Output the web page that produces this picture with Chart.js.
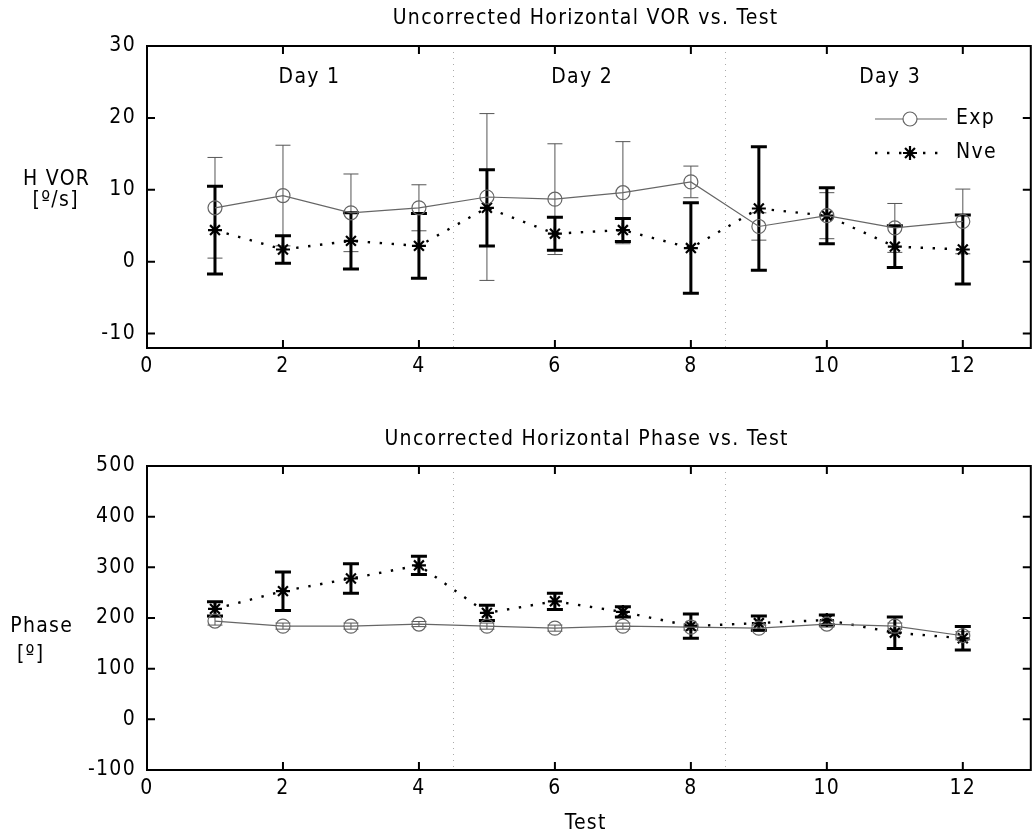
<!DOCTYPE html>
<html><head><meta charset="utf-8">
<script src="https://cdn.jsdelivr.net/npm/chart.js@4"></script>
<style>
html,body{margin:0;padding:0;background:#fff;overflow:hidden;width:1032px;height:838px;position:relative;}
canvas{position:absolute;left:0;}
#c1{top:0;}
#c2{top:420px;}
</style></head><body>
<canvas id="c1" width="1040" height="400"></canvas>
<canvas id="c2" width="1040" height="418"></canvas>
<script>
// ---------- data ----------
const tests      = [1,2,3,4,5,6,7,8,9,10,11,12];
const vorExp     = [7.5,9.2,6.8,7.5,9.0,8.7,9.6,11.1,4.9,6.4,4.7,5.6];
const vorExpErr  = [7.0,7.0,5.4,3.2,11.6,7.7,7.1,2.2,1.9,3.2,3.4,4.5];
const vorNve     = [4.4,1.7,2.9,2.2,7.5,3.9,4.4,1.9,7.4,6.4,2.1,1.7];
const vorNveErr  = [6.1,1.9,3.9,4.5,5.3,2.3,1.6,6.3,8.6,3.9,2.9,4.8];
const phExp      = [194,184,184,188,184,180,184,182,180,188,184,165];
const phExpErr   = [8,6,6,5,6,6,6,6,6,6,6,8];
const phNve      = [218,253,278,304,210,233,212,184,190,196,171,160];
const phNveErr   = [14,38,29,18,15,16,10,24,14,10,31,23];
const xTicks     = [0,2,4,6,8,10,12];
const vorTicks   = [-10,0,10,20,30];
const phaseTicks = [-100,0,100,200,300,400,500];
const dayDividers= [4.5,8.5];
const dayLabels  = ['Day 1','Day 2','Day 3'];
const dayLabelX  = [2.38,6.39,10.92];
const dayLabelY  = 25.6;
const seriesNames= ['Exp','Nve'];

// ---------- style ----------
const FONT = '"Liberation Sans Narrow", "DejaVu Sans Condensed", Arial, sans-serif';
const FSIZE = 21;
const SPACING = '1.3px';
Chart.defaults.font.family = FONT;
Chart.defaults.font.size = FSIZE;
Chart.defaults.color = '#000';

function txt(ctx, s, x, y, align){
  ctx.save();
  ctx.font = FSIZE + 'px ' + FONT;
  ctx.letterSpacing = SPACING;
  ctx.fillStyle = '#000';
  ctx.textAlign = align || 'center';
  ctx.textBaseline = 'middle';
  ctx.fillText(s, x + (align==='left'?0:0.65), y);
  ctx.restore();
}

function pts(vals){ return tests.map((t,i)=>({x:t, y:vals[i]})); }

function expDataset(vals, errs){
  return {label:seriesNames[0], data:pts(vals), errors:errs, errColor:'#555', errWidth:1, capHalf:7.5,
    borderColor:'#666', borderWidth:1.2, pointStyle:'circle', pointRadius:7, pointBorderWidth:1.2,
    pointBorderColor:'#666', pointBackgroundColor:'rgba(0,0,0,0)', tension:0, fill:false};
}
function nveDataset(vals, errs){
  return {label:seriesNames[1], data:pts(vals), errors:errs, errColor:'#000', errWidth:3, capHalf:8,
    borderColor:'#000', borderWidth:2.4, borderDash:[2.4,9.6], pointStyle:'star', pointRadius:7,
    pointBorderWidth:2.2, pointBorderColor:'#000', pointBackgroundColor:'#000', tension:0, fill:false};
}

const framePlugin = {
  id:'matFrame',
  beforeDraw(chart){ chart.ctx.letterSpacing = SPACING; },
  beforeDatasetsDraw(chart){
    const {ctx, chartArea:a, scales:{x,y}} = chart;
    ctx.save();
    ctx.strokeStyle = '#aaa'; ctx.lineWidth = 1; ctx.setLineDash([1,5]);
    dayDividers.forEach(v=>{
      const px = Math.round(x.getPixelForValue(v)) + 0.5;
      ctx.beginPath(); ctx.moveTo(px, a.top); ctx.lineTo(px, a.bottom); ctx.stroke();
    });
    ctx.restore();
    chart.data.datasets.forEach(ds=>{
      ctx.save();
      ctx.strokeStyle = ds.errColor; ctx.lineWidth = ds.errWidth;
      ds.data.forEach((p,j)=>{
        const e = ds.errors[j];
        const px = x.getPixelForValue(p.x);
        const y1 = y.getPixelForValue(p.y - e), y2 = y.getPixelForValue(p.y + e);
        ctx.beginPath();
        ctx.moveTo(px, y1); ctx.lineTo(px, y2);
        ctx.moveTo(px - ds.capHalf, y1); ctx.lineTo(px + ds.capHalf, y1);
        ctx.moveTo(px - ds.capHalf, y2); ctx.lineTo(px + ds.capHalf, y2);
        ctx.stroke();
      });
      ctx.restore();
    });
  },
  afterDraw(chart){
    const {ctx, chartArea:a, scales:{x,y}} = chart;
    ctx.save();
    ctx.strokeStyle = '#000'; ctx.lineWidth = 2; ctx.setLineDash([]);
    ctx.strokeRect(a.left, a.top, a.right - a.left, a.bottom - a.top);
    const L = 8;
    ctx.beginPath();
    x.ticks.forEach(t=>{
      const px = x.getPixelForValue(t.value);
      ctx.moveTo(px, a.bottom); ctx.lineTo(px, a.bottom - L);
      ctx.moveTo(px, a.top); ctx.lineTo(px, a.top + L);
    });
    y.ticks.forEach(t=>{
      const py = y.getPixelForValue(t.value);
      ctx.moveTo(a.left, py); ctx.lineTo(a.left + L, py);
      ctx.moveTo(a.right, py); ctx.lineTo(a.right - L, py);
    });
    ctx.stroke();
    ctx.restore();
  }
};

function scales(yMin, yMax, yTicks, xHeight){
  return {
    x:{type:'linear', min:0, max:13,
       afterBuildTicks:s=>{ s.ticks = xTicks.map(v=>({value:v})); },
       afterFit:s=>{ s.height = xHeight; },
       grid:{display:false, drawTicks:false}, border:{display:false},
       ticks:{padding:6, maxRotation:0, autoSkip:false, color:'#000', font:{size:FSIZE}}},
    y:{type:'linear', min:yMin, max:yMax,
       afterBuildTicks:s=>{ s.ticks = yTicks.map(v=>({value:v})); },
       afterFit:s=>{ s.width = 147; },
       grid:{display:false, drawTicks:false}, border:{display:false},
       ticks:{padding:11, autoSkip:false, color:'#000', font:{size:FSIZE}}}
  };
}

// ---------- top chart ----------
new Chart(document.getElementById('c1'), {
  type:'line',
  data:{datasets:[expDataset(vorExp, vorExpErr), nveDataset(vorNve, vorNveErr)]},
  options:{
    responsive:false, animation:false, devicePixelRatio:1,
    layout:{padding:{top:46, right:4, left:0, bottom:0}},
    plugins:{legend:{display:false}, tooltip:{enabled:false}, title:{display:false}},
    scales:scales(-12, 30, vorTicks, 52)
  },
  plugins:[framePlugin, {
    id:'texts1',
    afterDraw(chart){
      const {ctx, scales:{x,y}} = chart;
      txt(ctx, 'Uncorrected Horizontal VOR vs. Test', 585, 19);
      txt(ctx, 'H VOR', 56, 180);
      txt(ctx, '[º/s]', 55, 201);
      dayLabels.forEach((d,i)=> txt(ctx, d, x.getPixelForValue(dayLabelX[i]), y.getPixelForValue(dayLabelY)));
      // legend
      ctx.save();
      ctx.strokeStyle = '#666'; ctx.lineWidth = 1.2;
      ctx.beginPath(); ctx.moveTo(875,119); ctx.lineTo(947,119); ctx.stroke();
      ctx.beginPath(); ctx.arc(910,119,7,0,Math.PI*2); ctx.fillStyle='#fff'; ctx.fill(); ctx.stroke();
      ctx.strokeStyle = '#000'; ctx.lineWidth = 2.4; ctx.setLineDash([2.4,9.6]);
      ctx.beginPath(); ctx.moveTo(875,153); ctx.lineTo(947,153); ctx.stroke();
      ctx.setLineDash([]); ctx.lineWidth = 2.2;
      Chart.helpers.drawPoint(ctx, {pointStyle:'star', radius:7, rotation:0, borderWidth:2.2}, 910, 153);
      ctx.restore();
      txt(ctx, seriesNames[0], 956, 119, 'left');
      txt(ctx, seriesNames[1], 956, 153, 'left');
    }
  }]
});

// ---------- bottom chart ----------
new Chart(document.getElementById('c2'), {
  type:'line',
  data:{datasets:[expDataset(phExp, phExpErr), nveDataset(phNve, phNveErr)]},
  options:{
    responsive:false, animation:false, devicePixelRatio:1,
    layout:{padding:{top:46, right:4, left:0, bottom:0}},
    plugins:{legend:{display:false}, tooltip:{enabled:false}, title:{display:false}},
    scales:scales(-100, 500, phaseTicks, 68)
  },
  plugins:[framePlugin, {
    id:'texts2',
    afterDraw(chart){
      const {ctx} = chart;
      txt(ctx, 'Uncorrected Horizontal Phase vs. Test', 586, 20);
      txt(ctx, 'Phase', 41, 207);
      txt(ctx, '[º]', 30, 235);
      txt(ctx, 'Test', 585, 404);
    }
  }]
});
</script>
</body></html>
